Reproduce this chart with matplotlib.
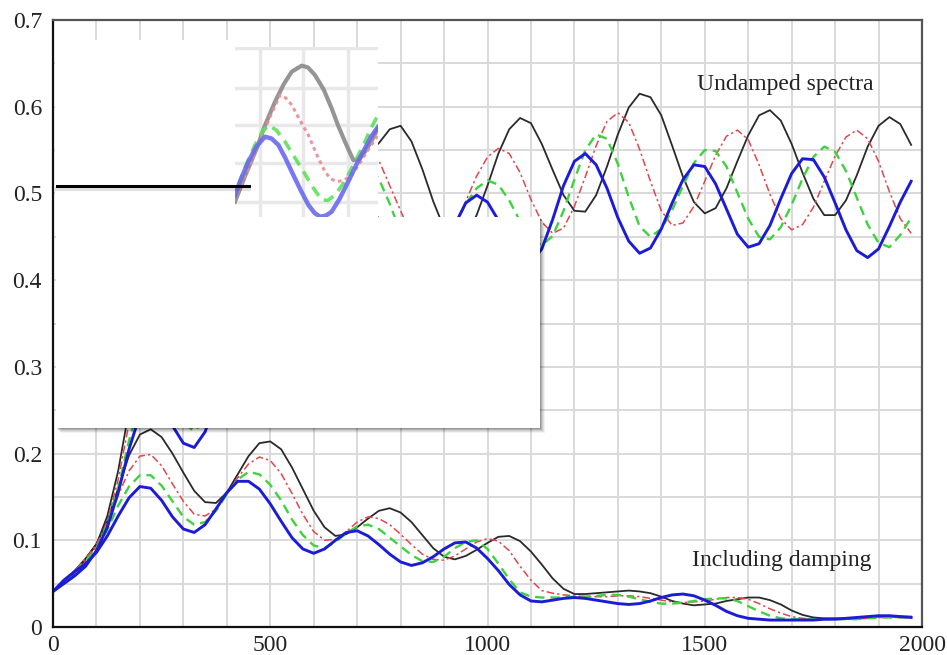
import matplotlib
matplotlib.use("Agg")
import matplotlib.pyplot as plt
from matplotlib.patches import Rectangle
from matplotlib.lines import Line2D

# period axis (sample points every 25)
x = list(range(0, 2000, 25))

# undamped spectra
und_black = [0.041, 0.050, 0.063, 0.078, 0.095, 0.128, 0.180, 0.250, 0.310, 0.340,
             0.345, 0.335, 0.315, 0.300, 0.300, 0.315, 0.345, 0.380, 0.420, 0.460,
             0.500, 0.530, 0.550, 0.560, 0.560, 0.553, 0.545, 0.540, 0.540, 0.547,
             0.558, 0.574, 0.578, 0.560, 0.528, 0.491, 0.460, 0.445, 0.451, 0.475,
             0.509, 0.546, 0.574, 0.587, 0.581, 0.557, 0.527, 0.498, 0.480, 0.479,
             0.498, 0.531, 0.568, 0.599, 0.615, 0.611, 0.590, 0.555, 0.519, 0.490,
             0.477, 0.483, 0.506, 0.537, 0.567, 0.590, 0.596, 0.584, 0.557, 0.524,
             0.494, 0.475, 0.475, 0.492, 0.521, 0.554, 0.578, 0.588, 0.580, 0.556]
und_red = [0.041, 0.050, 0.062, 0.076, 0.092, 0.122, 0.170, 0.235, 0.285, 0.305,
           0.305, 0.290, 0.270, 0.258, 0.262, 0.285, 0.320, 0.360, 0.400, 0.440,
           0.470, 0.495, 0.510, 0.515, 0.513, 0.510, 0.515, 0.528, 0.542, 0.547,
           0.538, 0.509, 0.480, 0.452, 0.435, 0.430, 0.440, 0.463, 0.491, 0.520,
           0.542, 0.552, 0.546, 0.524, 0.493, 0.467, 0.454, 0.460, 0.485, 0.519,
           0.555, 0.583, 0.593, 0.582, 0.551, 0.514, 0.480, 0.463, 0.466, 0.485,
           0.514, 0.544, 0.566, 0.573, 0.562, 0.533, 0.499, 0.471, 0.458, 0.464,
           0.484, 0.514, 0.543, 0.565, 0.573, 0.563, 0.537, 0.502, 0.471, 0.454]
und_green = [0.041, 0.050, 0.060, 0.073, 0.090, 0.118, 0.160, 0.215, 0.260, 0.280,
             0.278, 0.260, 0.235, 0.226, 0.238, 0.270, 0.310, 0.350, 0.390, 0.420,
             0.440, 0.455, 0.465, 0.475, 0.490, 0.505, 0.520, 0.530, 0.535, 0.533,
             0.517, 0.488, 0.455, 0.429, 0.420, 0.426, 0.443, 0.465, 0.488, 0.506,
             0.515, 0.510, 0.492, 0.468, 0.448, 0.440, 0.451, 0.480, 0.516, 0.550,
             0.568, 0.563, 0.534, 0.496, 0.462, 0.450, 0.459, 0.481, 0.509, 0.535,
             0.550, 0.549, 0.531, 0.501, 0.471, 0.450, 0.447, 0.461, 0.487, 0.517,
             0.542, 0.554, 0.548, 0.526, 0.495, 0.464, 0.443, 0.438, 0.452, 0.472]
und_blue = [0.041, 0.050, 0.059, 0.070, 0.088, 0.115, 0.155, 0.205, 0.245, 0.262,
            0.255, 0.232, 0.212, 0.207, 0.225, 0.260, 0.300, 0.345, 0.385, 0.415,
            0.435, 0.445, 0.450, 0.452, 0.455, 0.460, 0.466, 0.472, 0.477, 0.480,
            0.471, 0.450, 0.426, 0.407, 0.400, 0.409, 0.434, 0.464, 0.489, 0.498,
            0.490, 0.469, 0.444, 0.425, 0.420, 0.436, 0.470, 0.509, 0.537, 0.546,
            0.533, 0.506, 0.472, 0.445, 0.431, 0.437, 0.459, 0.489, 0.516, 0.533,
            0.531, 0.511, 0.482, 0.453, 0.438, 0.442, 0.463, 0.494, 0.523, 0.540,
            0.539, 0.519, 0.489, 0.458, 0.434, 0.426, 0.436, 0.462, 0.490, 0.514]

# spectra including damping
dmp_black = [0.041, 0.052, 0.065, 0.079, 0.096, 0.122, 0.160, 0.198, 0.222, 0.228,
             0.219, 0.200, 0.178, 0.157, 0.144, 0.143, 0.155, 0.176, 0.197, 0.212,
             0.214, 0.205, 0.184, 0.159, 0.134, 0.115, 0.105, 0.107, 0.115, 0.125,
             0.134, 0.137, 0.132, 0.121, 0.106, 0.091, 0.081, 0.078, 0.082, 0.089,
             0.097, 0.104, 0.105, 0.099, 0.087, 0.072, 0.056, 0.044, 0.038, 0.038,
             0.039, 0.040, 0.041, 0.042, 0.041, 0.039, 0.035, 0.030, 0.027, 0.025,
             0.026, 0.027, 0.030, 0.032, 0.034, 0.034, 0.031, 0.026, 0.019, 0.014,
             0.011, 0.010, 0.010, 0.010, 0.010, 0.011, 0.012, 0.012, 0.012, 0.012]
dmp_red = [0.041, 0.052, 0.065, 0.079, 0.095, 0.120, 0.152, 0.180, 0.197, 0.199,
           0.186, 0.165, 0.145, 0.130, 0.128, 0.136, 0.153, 0.172, 0.188, 0.196,
           0.192, 0.177, 0.154, 0.130, 0.110, 0.100, 0.101, 0.110, 0.121, 0.127,
           0.125, 0.118, 0.107, 0.095, 0.084, 0.078, 0.077, 0.082, 0.090, 0.098,
           0.102, 0.099, 0.088, 0.070, 0.054, 0.042, 0.039, 0.037, 0.036, 0.035,
           0.035, 0.035, 0.036, 0.036, 0.035, 0.033, 0.031, 0.029, 0.028, 0.029,
           0.030, 0.032, 0.034, 0.034, 0.032, 0.027, 0.021, 0.016, 0.012, 0.010,
           0.009, 0.009, 0.009, 0.009, 0.009, 0.010, 0.011, 0.011, 0.011, 0.011]
dmp_green = [0.041, 0.051, 0.063, 0.076, 0.091, 0.112, 0.140, 0.162, 0.175, 0.175,
             0.163, 0.145, 0.127, 0.118, 0.121, 0.134, 0.153, 0.170, 0.179, 0.176,
             0.164, 0.146, 0.124, 0.106, 0.094, 0.091, 0.098, 0.108, 0.116, 0.118,
             0.113, 0.103, 0.093, 0.083, 0.076, 0.075, 0.081, 0.091, 0.098, 0.100,
             0.090, 0.073, 0.055, 0.040, 0.035, 0.034, 0.034, 0.034, 0.035, 0.035,
             0.036, 0.037, 0.037, 0.035, 0.032, 0.029, 0.027, 0.027, 0.028, 0.030,
             0.032, 0.033, 0.033, 0.030, 0.024, 0.018, 0.013, 0.010, 0.009, 0.009,
             0.009, 0.009, 0.009, 0.009, 0.009, 0.010, 0.011, 0.011, 0.011, 0.011]
dmp_blue = [0.041, 0.054, 0.064, 0.073, 0.086, 0.105, 0.128, 0.149, 0.162, 0.160,
            0.146, 0.127, 0.113, 0.109, 0.118, 0.136, 0.155, 0.168, 0.168, 0.159,
            0.142, 0.122, 0.103, 0.090, 0.085, 0.090, 0.100, 0.109, 0.111, 0.105,
            0.095, 0.084, 0.075, 0.071, 0.074, 0.081, 0.090, 0.097, 0.098, 0.091,
            0.079, 0.065, 0.049, 0.037, 0.030, 0.029, 0.031, 0.033, 0.034, 0.033,
            0.031, 0.029, 0.027, 0.026, 0.027, 0.030, 0.034, 0.037, 0.038, 0.036,
            0.031, 0.025, 0.018, 0.013, 0.010, 0.009, 0.008, 0.008, 0.008, 0.008,
            0.008, 0.009, 0.009, 0.010, 0.011, 0.012, 0.013, 0.013, 0.012, 0.011]

xticks = [0, 500, 1000, 1500, 2000]
yticks = [0, 0.1, 0.2, 0.3, 0.4, 0.5, 0.6, 0.7]
ytick_labels = ["0", "0.1", "0.2", "0.3", "0.4", "0.5", "0.6", "0.7"]

# magnified patch pasted over the top left (local 0-100 units)
ins_gray_x = [0, 7, 15.2, 21, 28, 34, 39.7, 46.6, 51, 55.9, 62, 67.6, 72, 76.9, 82.7, 87, 90.9, 95, 100]
ins_gray_y = [9, 24, 40.4, 54, 67.8, 78, 85.5, 89, 88, 83.5, 75, 63.9, 54, 44.3, 33.5, 34, 38.4, 44, 52.2]
ins_red_x = [2.3, 9, 16.3, 24, 31.5, 35.5, 39.7, 45, 51.3, 57, 62.9, 67, 71.1, 76, 81.6, 86, 90.9, 95, 100]
ins_red_y = [14.9, 28, 42.4, 58, 71.8, 70, 65.9, 57.5, 48.2, 37, 26.6, 22.5, 20.8, 21.5, 24.7, 30, 36.5, 42, 48.2]
ins_green_x = [2.3, 8, 14, 19, 23.3, 29, 35, 41, 46.6, 54, 60.6, 65, 69.9, 76, 81.6, 86, 90.9, 95, 100]
ins_green_y = [18.8, 31, 42.4, 50, 54.1, 51, 44.3, 36, 28.6, 18, 10, 9.8, 12.9, 20, 28.6, 36, 44.3, 52, 60]
ins_blue_x = [0, 4.5, 9.3, 15, 21, 25.5, 30.3, 35, 39.7, 45.5, 51.3, 55.5, 59.4, 63.5, 67.6, 73, 79.2, 85, 90.9, 95, 100]
ins_blue_y = [12.9, 23, 32.5, 41.5, 47.2, 46.2, 42.4, 35, 26.6, 16.5, 7.1, 2.5, 0.2, 0.8, 3.1, 10.5, 20.8, 31, 40.4, 47, 53]

W, H = 947, 655
SERIF = ["Liberation Serif", "DejaVu Serif"]

fig = plt.figure(figsize=(W / 100, H / 100), dpi=100)
fig.patch.set_facecolor("white")


def fig_box(x0, y0, x1, y1):
    # pixel box (top-left origin) -> figure fraction rect
    return [x0 / W, 1 - y1 / H, (x1 - x0) / W, (y1 - y0) / H]


ax = fig.add_axes(fig_box(53, 20, 922, 627))

black = "#2a2a2a"
red = "#e0474c"
green = "#3ed23e"
blue = "#1c1cd8"

for ys in (und_black, dmp_black):
    ax.plot(x, ys, color=black, lw=1.3)
for ys in (und_red, dmp_red):
    ax.plot(x, ys, color=red, lw=1.1, dashes=(5, 2, 1.5, 2))
for ys in (und_green, dmp_green):
    ax.plot(x, ys, color=green, lw=1.7, dashes=(4, 2.5))
for ys in (und_blue, dmp_blue):
    ax.plot(x, ys, color=blue, lw=2.1)

ax.set_xlim(0, 2000)
ax.set_ylim(0, 0.7)
ax.set_xticks(xticks)
ax.set_xticks(range(0, 2001, 100), minor=True)
ax.set_yticks(yticks)
ax.set_yticklabels(ytick_labels)
ax.set_yticks([i * 0.05 for i in range(15)], minor=True)
ax.grid(True, which="both", color="#d9d9d9", lw=1.4)
ax.set_axisbelow(True)
ax.tick_params(which="both", length=0)
ax.tick_params(axis="x", pad=6)
ax.tick_params(axis="y", pad=8)
for lab in ax.get_xticklabels() + ax.get_yticklabels():
    lab.set_fontfamily(SERIF)
    lab.set_fontsize(17)
    lab.set_color("#222222")
for side in ("left", "bottom"):
    ax.spines[side].set_color("#111111")
    ax.spines[side].set_linewidth(1.6)
for side in ("top", "right"):
    ax.spines[side].set_color("#555555")
    ax.spines[side].set_linewidth(1.6)

ax.text(1685, 0.626, "Undamped spectra", family=SERIF, fontsize=17,
        ha="center", va="center", color="#222222")
ax.text(1678, 0.077, "Including damping", family=SERIF, fontsize=17,
        ha="center", va="center", color="#222222")

# white patches pasted over the chart
for off, a in ((5, 0.05), (4, 0.07), (3, 0.09), (2, 0.12), (1, 0.15)):
    fig.add_artist(Rectangle(fig_box(56 + off, 217 + off, 540 + off, 428 + off)[:2],
                             (540 - 56) / W, (428 - 217) / H,
                             transform=fig.transFigure, facecolor="black",
                             edgecolor="none", alpha=a, zorder=2))
fig.add_artist(Rectangle(fig_box(56, 217, 540, 428)[:2], (540 - 56) / W, (428 - 217) / H,
                         transform=fig.transFigure, facecolor="white",
                         edgecolor="none", zorder=3))
fig.add_artist(Rectangle(fig_box(55, 40, 235, 218)[:2], (235 - 55) / W, (218 - 40) / H,
                         transform=fig.transFigure, facecolor="white",
                         edgecolor="none", zorder=3))

ins = fig.add_axes(fig_box(235, 47, 378, 217))
ins.set_zorder(4)
ins.set_xlim(0, 100)
ins.set_ylim(0, 100)
ins.set_xticks([17.5, 47.6, 79])
ins.set_yticks([8.8, 31.8, 54.1, 75.9, 99.4])
ins.tick_params(length=0, labelbottom=False, labelleft=False)
ins.grid(True, color="#e8e8e8", lw=2.5)
for sp in ins.spines.values():
    sp.set_visible(False)
ins.plot(ins_gray_x, ins_gray_y, color="#8a8a8a", lw=3.0, alpha=0.9)
ins.plot(ins_red_x, ins_red_y, color="#e88a95", lw=2.2, dashes=(1.2, 1.2), alpha=0.9)
ins.plot(ins_green_x, ins_green_y, color="#5ee05e", lw=2.6, dashes=(3, 2), alpha=0.9)
ins.plot(ins_blue_x, ins_blue_y, color="#6a6aee", lw=3.2, alpha=0.9)

# black bar with its soft shadow
fig.add_artist(Line2D([57 / W, 249 / W], [1 - 189 / H, 1 - 189 / H], transform=fig.transFigure,
                      color="#000000", alpha=0.12, lw=3, zorder=5))
fig.add_artist(Line2D([57 / W, 249 / W], [1 - 186 / H, 1 - 186 / H], transform=fig.transFigure,
                      color="#000000", lw=2.2, zorder=6))

fig.savefig("out.png", dpi=100)
